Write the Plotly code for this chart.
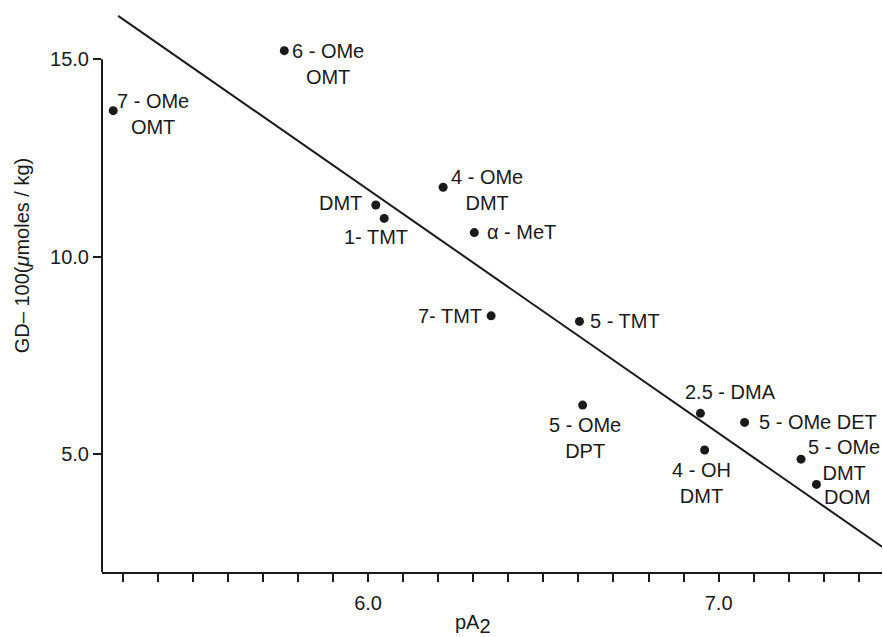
import plotly.graph_objects as go

# pA2 versus GD-100 for the tryptamine / phenethylamine series
compounds = ["7 - OMe<br>OMT", "6 - OMe<br>OMT", "DMT", "1- TMT", "4 - OMe<br>DMT",
             "α - MeT", "7- TMT", "5 - TMT", "5 - OMe<br>DPT", "2.5 - DMA",
             "4 - OH<br>DMT", "5 - OMe DET", "5 - OMe<br>DMT", "DOM"]
pa2 = [5.273, 5.761, 6.022, 6.046, 6.214, 6.303, 6.351, 6.603, 6.612, 6.948,
       6.960, 7.074, 7.235, 7.279]
gd100 = [13.70, 15.22, 11.31, 10.97, 11.76, 10.61, 8.50, 8.36, 6.24, 6.03,
         5.10, 5.80, 4.87, 4.23]

# least-squares line endpoints
fit_x = [5.287, 7.466]
fit_y = [16.10, 2.65]

# label placement: (x shift px, y shift px, anchor)
label_pos = [(40, -3, "center"), (44, -13, "center"), (-12, 2, "right"),
             (-8, -19, "center"), (44, -3, "center"), (11, 1, "left"),
             (-7, 0, "right"), (9, 0, "left"), (2, -33, "center"),
             (30, 21, "center"), (-3, -33, "center"), (12, 0, "left"),
             (43, -1, "center"), (31, -13, "center")]

FONT = "Liberation Sans, Arial, sans-serif"
INK = "#1a1a1a"
FS = 20

x_range = [5.241, 7.466]
y_range = [2.010, 16.25]

fig = go.Figure()
fig.add_trace(go.Scatter(x=fit_x, y=fit_y, mode="lines",
                         line=dict(color=INK, width=2), hoverinfo="skip"))
fig.add_trace(go.Scatter(x=pa2, y=gd100, mode="markers",
                         marker=dict(color=INK, size=9), hoverinfo="skip"))

annotations = []
for name, x, y, (dx, dy, anchor) in zip(compounds, pa2, gd100, label_pos):
    annotations.append(dict(x=x, y=y, xref="x", yref="y", text=name,
                            showarrow=False, xanchor=anchor, yanchor="middle",
                            xshift=dx, yshift=dy, align="center",
                            font=dict(family=FONT, size=FS, color=INK)))

# axis titles
annotations.append(dict(text="GD– 100(<i>μ</i>moles / kg)", textangle=-90,
                        x=-0.103, y=0.563, xref="paper", yref="paper",
                        showarrow=False, xanchor="center", yanchor="middle",
                        font=dict(family=FONT, size=FS, color=INK)))
annotations.append(dict(text="pA<sub><span style='font-size:20px'>2</span></sub>",
                        x=6.3, y=0, xref="x", yref="paper",
                        showarrow=False, xanchor="center", yanchor="middle",
                        yshift=-52, font=dict(family=FONT, size=FS, color=INK)))

fig.update_layout(
    width=883, height=637,
    margin=dict(l=102, r=1, t=10, b=65),
    paper_bgcolor="white", plot_bgcolor="white",
    showlegend=False,
    annotations=annotations,
    shapes=[dict(type="line", xref="x domain", yref="y", x0=0, x1=0,
                 y0=y_range[0], y1=15.0, line=dict(color=INK, width=2))],
    font=dict(family=FONT, size=FS, color=INK),
)
fig.update_xaxes(range=x_range, showgrid=False, zeroline=False,
                 showline=True, linecolor=INK, linewidth=2,
                 tickmode="array", tickvals=[6.0, 7.0], tickformat=".1f",
                 ticks="outside", ticklen=8, tickwidth=2, tickcolor=INK,
                 ticklabelstandoff=4,
                 minor=dict(dtick=0.1, tick0=6.0, ticks="outside", ticklen=8,
                            tickwidth=2, tickcolor=INK, showgrid=False),
                 tickfont=dict(family=FONT, size=FS, color=INK))
fig.update_yaxes(range=y_range, showgrid=False, zeroline=False, showline=False,
                 tickmode="array", tickvals=[5.0, 10.0, 15.0], tickformat=".1f",
                 ticks="outside", ticklen=8, tickwidth=2, tickcolor=INK,
                 tickfont=dict(family=FONT, size=FS, color=INK))

fig.write_html("out.html")
